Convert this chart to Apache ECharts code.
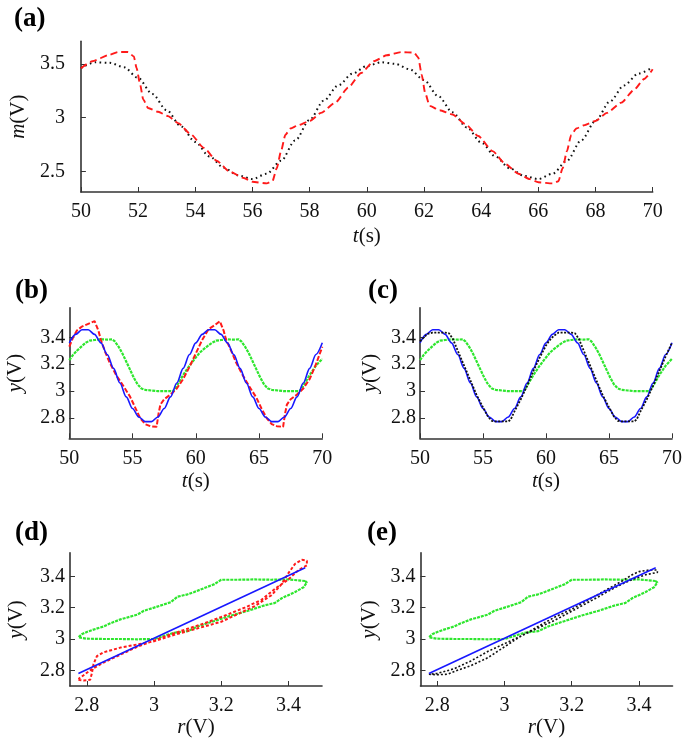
<!DOCTYPE html>
<html>
<head>
<meta charset="utf-8">
<script src="https://cdn.jsdelivr.net/npm/echarts@6/dist/echarts.min.js"></script>
<style>
  html, body { margin: 0; padding: 0; background: #fff; }
  #main { width: 685px; height: 744px; }
</style>
</head>
<body>
<div id="main"></div>
<script>
// time grid for (a) and the blue model curve, step 0.5 s
let tHalf = [50, 50.5, 51, 51.5, 52, 52.5, 53, 53.5, 54, 54.5, 55, 55.5, 56, 56.5, 57, 57.5, 58, 58.5, 59, 59.5,
  60, 60.5, 61, 61.5, 62, 62.5, 63, 63.5, 64, 64.5, 65, 65.5, 66, 66.5, 67, 67.5, 68, 68.5, 69, 69.5, 70];

// (a) m(t): black dotted
let mBlack = [3.46, 3.515, 3.51, 3.47, 3.37, 3.22, 3.07, 2.92, 2.775, 2.64, 2.535, 2.465, 2.43, 2.48, 2.6, 2.79, 2.98, 3.16, 3.3, 3.41,
  3.48, 3.515, 3.5, 3.45, 3.35, 3.2, 3.05, 2.91, 2.77, 2.64, 2.53, 2.46, 2.43, 2.48, 2.6, 2.79, 2.97, 3.15, 3.3, 3.41, 3.47];

// (a) red dashed [t, m]
let mRed = [[50, 3.46], [50.4, 3.525], [51, 3.585], [51.3, 3.61], [51.65, 3.61], [51.85, 3.57], [51.95, 3.46], [52.07, 3.31],
  [52.18, 3.17], [52.35, 3.09], [52.7, 3.055], [53.05, 3.015], [53.4, 2.95], [53.85, 2.845], [54.3, 2.72], [54.75, 2.6],
  [55.2, 2.5], [55.7, 2.44], [56.0, 2.405], [56.5, 2.39], [56.7, 2.41], [56.85, 2.53], [57.0, 2.69], [57.15, 2.84],
  [57.33, 2.9], [57.6, 2.93], [58.0, 2.97], [58.4, 3.045], [58.9, 3.14], [59.35, 3.28], [59.8, 3.415], [60.25, 3.525],
  [60.7, 3.58], [61.2, 3.61], [61.65, 3.605], [61.8, 3.56], [61.92, 3.4], [62.04, 3.23], [62.2, 3.11], [62.55, 3.07],
  [63.0, 3.03], [63.45, 2.94], [63.9, 2.83], [64.4, 2.69], [64.85, 2.57], [65.3, 2.48], [65.7, 2.43], [66.0, 2.4],
  [66.5, 2.39], [66.7, 2.41], [66.85, 2.53], [67.0, 2.69], [67.15, 2.84], [67.33, 2.9], [67.6, 2.93], [68.0, 2.97],
  [68.4, 3.045], [68.9, 3.14], [69.35, 3.26], [69.7, 3.36], [70, 3.45]];

// (b),(c) blue model output y(t)
let yBlue = [3.359, 3.422, 3.456, 3.456, 3.422, 3.359, 3.272, 3.169, 3.061, 2.958, 2.871, 2.808, 2.774, 2.774, 2.808, 2.871,
  2.958, 3.061, 3.169, 3.272, 3.359, 3.422, 3.456, 3.456, 3.422, 3.359, 3.272, 3.169, 3.061, 2.958, 2.871, 2.808, 2.774,
  2.774, 2.808, 2.871, 2.958, 3.061, 3.169, 3.272, 3.359];

// (b),(c) green [t, y]
let yGreen = [[50, 3.23], [50.3, 3.27], [50.6, 3.3], [51, 3.335], [51.3, 3.36], [51.6, 3.375], [52, 3.38], [52.5, 3.385],
  [53, 3.383], [53.4, 3.385], [53.6, 3.37], [53.9, 3.33], [54.2, 3.28], [54.5, 3.22], [54.8, 3.16], [55.1, 3.1],
  [55.4, 3.05], [55.7, 3.02], [56, 3.01], [56.5, 3.005], [57, 3.0], [57.5, 3.0], [58, 3.0], [58.2, 3.0], [58.5, 3.04],
  [59, 3.12], [59.5, 3.19], [60, 3.25], [60.3, 3.285], [60.6, 3.31], [61, 3.34], [61.3, 3.36], [61.6, 3.375], [62, 3.38],
  [62.5, 3.385], [63, 3.383], [63.4, 3.385], [63.6, 3.37], [63.9, 3.33], [64.2, 3.28], [64.5, 3.22], [64.8, 3.16],
  [65.1, 3.1], [65.4, 3.05], [65.7, 3.02], [66, 3.01], [66.5, 3.005], [67, 3.0], [67.5, 3.0], [68, 3.0], [68.2, 3.0],
  [68.5, 3.04], [69, 3.12], [69.5, 3.19], [70, 3.24]];

// (b) red [t, y]
let yRed = [[50, 3.33], [50.3, 3.4], [50.6, 3.45], [51, 3.48], [51.5, 3.5], [52, 3.52], [52.15, 3.52], [52.3, 3.45],
  [52.5, 3.38], [52.8, 3.3], [53.2, 3.21], [53.7, 3.12], [54.2, 3.05], [54.8, 2.96], [55.2, 2.88], [55.6, 2.8],
  [56, 2.755], [56.4, 2.74], [56.9, 2.735], [57.05, 2.83], [57.2, 2.9], [57.5, 2.94], [58, 2.975], [58.5, 3.02],
  [59, 3.09], [59.5, 3.18], [60, 3.28], [60.5, 3.38], [61, 3.46], [61.5, 3.49], [61.9, 3.52], [62.05, 3.52],
  [62.2, 3.45], [62.4, 3.38], [62.8, 3.3], [63.2, 3.21], [63.7, 3.12], [64.2, 3.04], [64.8, 2.95], [65.2, 2.87],
  [65.6, 2.8], [66, 2.755], [66.4, 2.74], [66.9, 2.735], [67.05, 2.83], [67.2, 2.9], [67.5, 2.94], [68, 2.975],
  [68.5, 3.02], [69, 3.09], [69.5, 3.2], [70, 3.33]];

// (c) black [t, y]
let yBlack = [[50, 3.37], [50.3, 3.4], [50.6, 3.425], [51, 3.435], [51.5, 3.435], [52, 3.435], [52.3, 3.43], [52.6, 3.39],
  [53, 3.3], [53.5, 3.19], [54, 3.08], [54.5, 2.97], [55, 2.88], [55.4, 2.81], [55.7, 2.78], [56, 2.775], [56.5, 2.775],
  [57, 2.775], [57.2, 2.79], [57.5, 2.85], [58, 2.94], [58.5, 3.04], [59, 3.15], [59.5, 3.25], [60, 3.34], [60.3, 3.38],
  [60.6, 3.41], [61, 3.435], [61.5, 3.435], [62, 3.435], [62.3, 3.43], [62.6, 3.39], [63, 3.3], [63.5, 3.19], [64, 3.08],
  [64.5, 2.97], [65, 2.88], [65.4, 2.81], [65.7, 2.78], [66, 2.775], [66.5, 2.775], [67, 2.775], [67.2, 2.79],
  [67.5, 2.85], [68, 2.94], [68.5, 3.04], [69, 3.15], [69.5, 3.26], [70, 3.36]];

// (d),(e) y against r
let rLine = [2.775, 3.45];
let yLine = [2.78, 3.455];

let greenLoop = [[3.45, 3.37], [3.4, 3.38], [3.35, 3.378], [3.3, 3.38], [3.25, 3.378], [3.2, 3.378], [3.18, 3.35],
  [3.15, 3.325], [3.12, 3.3], [3.1, 3.285], [3.07, 3.27], [3.05, 3.235], [3.0, 3.2], [2.97, 3.18], [2.95, 3.155],
  [2.9, 3.125], [2.87, 3.1], [2.85, 3.08], [2.82, 3.06], [2.8, 3.045], [2.785, 3.03], [2.775, 3.01], [2.775, 3.0],
  [2.8, 3.002], [2.85, 3.0], [2.9, 3.0], [2.95, 2.998], [3.0, 3.0], [3.03, 3.02], [3.06, 3.04], [3.1, 3.05],
  [3.13, 3.08], [3.18, 3.115], [3.23, 3.15], [3.28, 3.18], [3.33, 3.215], [3.36, 3.23], [3.38, 3.26], [3.42, 3.3],
  [3.445, 3.33], [3.455, 3.36], [3.45, 3.37]];

let redLoop = [[2.775, 2.74], [2.79, 2.735], [2.81, 2.74], [2.815, 2.78], [2.82, 2.84], [2.83, 2.89], [2.85, 2.915],
  [2.9, 2.945], [2.95, 2.965], [3.0, 2.985], [3.05, 3.02], [3.1, 3.05], [3.15, 3.08], [3.2, 3.11], [3.25, 3.16],
  [3.3, 3.21], [3.35, 3.28], [3.38, 3.35], [3.4, 3.42], [3.42, 3.48], [3.44, 3.505], [3.455, 3.5], [3.455, 3.47],
  [3.43, 3.44], [3.4, 3.38], [3.36, 3.32], [3.32, 3.25], [3.27, 3.2], [3.2, 3.14], [3.15, 3.1], [3.1, 3.065],
  [3.05, 3.03], [3.0, 2.99], [2.95, 2.95], [2.9, 2.9], [2.85, 2.85], [2.81, 2.8], [2.785, 2.76], [2.775, 2.745]];

let blackLoop = [[2.775, 2.775], [2.8, 2.772], [2.83, 2.775], [2.86, 2.8], [2.9, 2.83], [2.95, 2.88], [3.0, 2.95],
  [3.05, 3.02], [3.1, 3.08], [3.15, 3.14], [3.2, 3.19], [3.25, 3.25], [3.3, 3.31], [3.35, 3.37], [3.38, 3.41],
  [3.4, 3.43], [3.43, 3.44], [3.455, 3.44], [3.455, 3.425], [3.42, 3.41], [3.38, 3.38], [3.33, 3.33], [3.28, 3.27],
  [3.22, 3.2], [3.15, 3.12], [3.1, 3.07], [3.05, 3.02], [3.0, 2.97], [2.95, 2.92], [2.9, 2.86], [2.85, 2.81],
  [2.8, 2.78], [2.775, 2.775]];

let ticksA = [2.5, 3, 3.5];
let ticksY = [2.8, 3, 3.2, 3.4];
let ticksR = [2.8, 3, 3.2, 3.4];

const FONT = 'Liberation Serif';
const AX = '#333';
const RED = '#ff1a1a', BLUE = '#1818ff', GREEN = '#2ee62e', BLACK = '#111';

function zip(xs, ys) {
  return xs.map(function (x, i) { return [x, ys[i]]; });
}

function axisCommon() {
  return {
    axisLine: { show: true, onZero: false, lineStyle: { color: AX, width: 1.6 } },
    axisTick: { show: true, inside: true, length: 5, lineStyle: { color: AX, width: 1 } },
    splitLine: { show: false },
    nameLocation: 'middle',
    nameTextStyle: {
      fontFamily: FONT, fontSize: 21, color: '#111',
      rich: { i: { fontFamily: FONT, fontSize: 21, fontStyle: 'italic', color: '#111' } }
    }
  };
}

function xAx(grid, min, max, opts) {
  let a = axisCommon();
  a.type = 'value';
  a.gridIndex = grid;
  a.min = min;
  a.max = max;
  a.name = opts.name;
  a.nameGap = opts.gap;
  a.axisLabel = { fontFamily: FONT, fontSize: 20, color: '#111', margin: 10 };
  if (opts.interval) a.interval = opts.interval;
  if (opts.ticks) {
    a.axisLabel.customValues = opts.ticks;
    a.axisTick.customValues = opts.ticks;
  }
  return a;
}

function yAx(grid, min, max, opts) {
  let a = axisCommon();
  a.type = 'value';
  a.gridIndex = grid;
  a.min = min;
  a.max = max;
  a.name = opts.name;
  a.nameGap = opts.gap;
  a.nameRotate = 90;
  a.axisLabel = { fontFamily: FONT, fontSize: 20, color: '#111', margin: opts.margin,
    customValues: opts.ticks };
  a.axisTick.customValues = opts.ticks;
  return a;
}

function line(idx, data, color, width, type, smooth) {
  return {
    type: 'line', xAxisIndex: idx, yAxisIndex: idx, data: data,
    showSymbol: false, symbol: 'none', smooth: smooth || false,
    smoothMonotone: smooth ? 'x' : undefined,
    lineStyle: { color: color, width: width, type: type },
    z: 2
  };
}

let myChart = echarts.init(document.getElementById('main'), null, { renderer: 'canvas' });

let panelTitle = function (txt, left, top) {
  return {
    text: txt, left: left, top: top, padding: 0,
    textStyle: { fontFamily: FONT, fontWeight: 'bold', fontSize: 27, color: '#000' }
  };
};

let option = {
  animation: false,
  backgroundColor: '#fff',
  textStyle: { fontFamily: FONT },
  title: [
    panelTitle('(a)', 14, 6),
    panelTitle('(b)', 15, 278),
    panelTitle('(c)', 368, 278),
    panelTitle('(d)', 15, 520),
    panelTitle('(e)', 367, 520)
  ],
  grid: [
    { left: 71.7, top: 41.3, width: 581, height: 150.7 },
    { left: 69.3, top: 307.7, width: 253, height: 130.6 },
    { left: 420, top: 307.7, width: 252.7, height: 130.6 },
    { left: 70, top: 552.8, width: 252, height: 133.2 },
    { left: 420.5, top: 552.8, width: 252, height: 133.2 }
  ],
  xAxis: [
    xAx(0, 50, 70, { name: '{i|t}(s)', gap: 34, interval: 2 }),
    xAx(1, 50, 70, { name: '{i|t}(s)', gap: 33, interval: 5 }),
    xAx(2, 50, 70, { name: '{i|t}(s)', gap: 33, interval: 5 }),
    xAx(3, 2.75, 3.5, { name: '{i|r}(V)', gap: 30, ticks: ticksR }),
    xAx(4, 2.75, 3.5, { name: '{i|r}(V)', gap: 30, ticks: ticksR })
  ],
  yAxis: [
    yAx(0, 2.31, 3.71, { name: '{i|m}(V)', gap: 43, margin: 16, ticks: ticksA }),
    yAx(1, 2.65, 3.62, { name: '{i|y}(V)', gap: 43, margin: 4, ticks: ticksY }),
    yAx(2, 2.65, 3.62, { name: '{i|y}(V)', gap: 39, margin: 4, ticks: ticksY }),
    yAx(3, 2.7, 3.55, { name: '{i|y}(V)', gap: 43, margin: 5, ticks: ticksY }),
    yAx(4, 2.7, 3.55, { name: '{i|y}(V)', gap: 41, margin: 5, ticks: ticksY })
  ],
  series: [
    // (a)
    line(0, zip(tHalf, mBlack), BLACK, 2, [1.6, 3.4], 0.3),
    line(0, mRed, RED, 1.9, [7, 4], 0.2),
    // (b)
    line(1, yGreen, GREEN, 2.2, [3, 1], false),
    line(1, yRed, RED, 2, [5, 2], false),
    line(1, zip(tHalf, yBlue), BLUE, 1.6, 'solid', 0.3),
    // (c)
    line(2, yGreen, GREEN, 2.2, [3, 1], false),
    line(2, zip(tHalf, yBlue), BLUE, 1.6, 'solid', 0.3),
    line(2, yBlack, BLACK, 1.8, [2, 1.5], false),
    // (d)
    line(3, greenLoop, GREEN, 2.2, [3, 1], false),
    line(3, redLoop, RED, 2, [3, 2], false),
    line(3, zip(rLine, yLine), BLUE, 1.6, 'solid', false),
    // (e)
    line(4, greenLoop, GREEN, 2.2, [3, 1], false),
    line(4, blackLoop, BLACK, 1.6, [2, 2], false),
    line(4, zip(rLine, yLine), BLUE, 1.6, 'solid', false)
  ]
};

myChart.setOption(option);
</script>
</body>
</html>
